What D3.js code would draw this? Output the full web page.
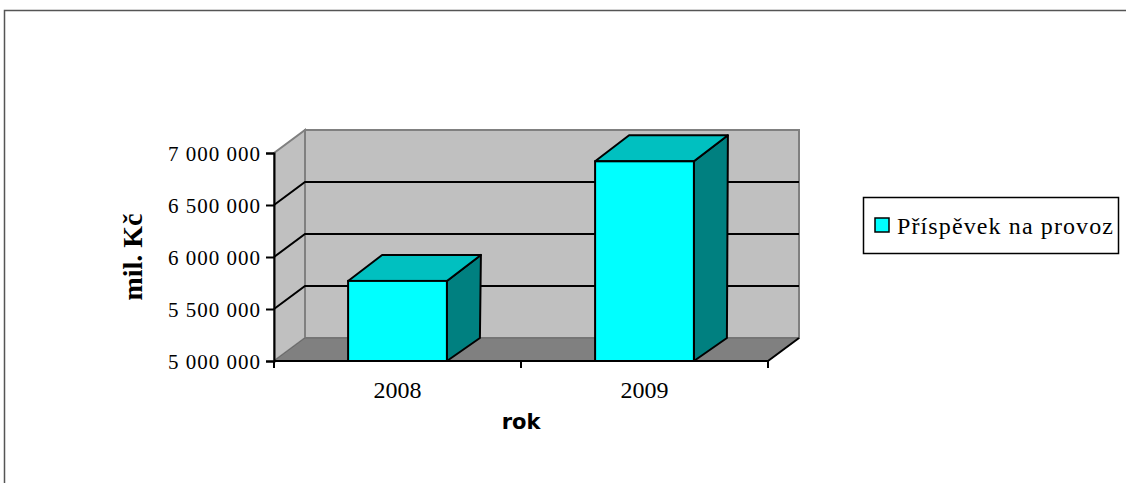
<!DOCTYPE html>
<html>
<head>
<meta charset="utf-8">
<script src="https://cdn.jsdelivr.net/npm/d3@7"></script>
<style>
  html, body { margin: 0; padding: 0; background: #fff; }
  svg { display: block; }
  .serif { font-family: "Liberation Serif", "Times New Roman", Times, serif; }
  .sans { font-family: "DejaVu Sans", Verdana, sans-serif; }
</style>
</head>
<body>
<svg id="chart" width="1126" height="483"></svg>
<script>
const years = ["2008", "2009"];
const values = [5770000, 6920000];
const yTicks = [5000000, 5500000, 6000000, 6500000, 7000000];
const seriesName = "Příspěvek na provoz";

const svg = d3.select("#chart");

// outer chart frame (runs off the right/bottom edge)
svg.append("rect")
    .attr("x", 4.5).attr("y", 10.5).attr("width", 1200).attr("height", 600)
    .attr("fill", "#fff").attr("stroke", "#555").attr("stroke-width", 1.5);

const x0 = 274, x1 = 768, yBot = 361, yTop = 153;
const wall = { dx: 31, dy: -23 };
const barBottom = { dx: 33, dy: -23 };
const barTop = { dx: 34, dy: -26 };

const y = d3.scaleLinear().domain([5000000, 7000000]).range([yBot, yTop]);
const x = d3.scaleBand().domain(years).range([x0, x1]).padding(0);
const barW = x.bandwidth() * 0.4;

const pts = a => a.map(p => p.join(",")).join(" ");

// left side wall
svg.append("polygon")
    .attr("points", pts([[x0, yBot], [x0, yTop], [x0 + wall.dx, yTop + wall.dy], [x0 + wall.dx, yBot + wall.dy]]))
    .attr("fill", "#c0c0c0").attr("stroke", "#808080").attr("stroke-width", 2);

// back wall
svg.append("rect")
    .attr("x", x0 + wall.dx).attr("y", yTop + wall.dy)
    .attr("width", x1 - x0).attr("height", yBot - yTop)
    .attr("fill", "#c0c0c0").attr("stroke", "#808080").attr("stroke-width", 2);

// floor
svg.append("polygon")
    .attr("points", pts([[x0, yBot], [x0 + wall.dx, yBot + wall.dy], [x1 + wall.dx, yBot + wall.dy], [x1, yBot]]))
    .attr("fill", "#808080").attr("stroke", "#6a6a6a").attr("stroke-width", 1);
svg.append("line")
    .attr("x1", x1).attr("y1", yBot).attr("x2", x1 + wall.dx).attr("y2", yBot + wall.dy)
    .attr("stroke", "#000").attr("stroke-width", 2);

// gridlines on side and back walls
const grid = yTicks.filter(v => v > 5000000 && v < 7000000);
svg.append("g").selectAll("path")
    .data(grid)
    .join("path")
    .attr("d", v => `M${x0},${y(v)} L${x0 + wall.dx},${y(v) + wall.dy} L${x1 + wall.dx},${y(v) + wall.dy}`)
    .attr("fill", "none").attr("stroke", "#000").attr("stroke-width", 2);

// bars
const bars = svg.append("g").selectAll("g")
    .data(years.map((d, i) => ({ year: d, value: values[i] })))
    .join("g");

bars.each(function (d) {
    const g = d3.select(this);
    const l = x(d.year) + (x.bandwidth() - barW) / 2;
    const r = l + barW;
    const t = y(d.value);
    g.append("polygon")
        .attr("points", pts([[r, yBot], [r, t], [r + barTop.dx, t + barTop.dy], [r + barBottom.dx, yBot + barBottom.dy]]))
        .attr("fill", "#008080").attr("stroke", "#000").attr("stroke-width", 2).attr("stroke-linejoin", "round");
    g.append("polygon")
        .attr("points", pts([[l, t], [l + barTop.dx, t + barTop.dy], [r + barTop.dx, t + barTop.dy], [r, t]]))
        .attr("fill", "#00c0c0").attr("stroke", "#000").attr("stroke-width", 2).attr("stroke-linejoin", "round");
    g.append("rect")
        .attr("x", l).attr("y", t).attr("width", barW).attr("height", yBot - t)
        .attr("fill", "#00ffff").attr("stroke", "#000").attr("stroke-width", 2);
});

// y axis
const yAxis = svg.append("g")
    .attr("transform", `translate(${x0},0)`)
    .call(d3.axisLeft(y).tickValues(yTicks).tickSize(8).tickPadding(6)
        .tickFormat(v => d3.format(",")(v).replace(/,/g, " ")));
yAxis.attr("font-family", null).attr("font-size", null);
yAxis.select(".domain").attr("stroke", "#000").attr("stroke-width", 2);
yAxis.selectAll(".tick line").attr("stroke", "#000").attr("stroke-width", 2);
yAxis.selectAll(".tick text")
    .attr("class", "serif")
    .attr("font-size", 21).attr("fill", "#000")
    .attr("textLength", 92).attr("lengthAdjust", "spacing")
    .attr("dy", "0.34em");

// x axis
const xAxis = svg.append("g")
    .attr("transform", `translate(0,${yBot})`)
    .call(d3.axisBottom(x).tickSize(0).tickPadding(20));
xAxis.attr("font-family", null).attr("font-size", null);
xAxis.select(".domain").remove();
xAxis.append("line").attr("x1", x0).attr("x2", x1).attr("stroke", "#000").attr("stroke-width", 2);
xAxis.selectAll(".xtick")
    .data([x0, x0 + x.step(), x1])
    .join("line")
    .attr("class", "xtick")
    .attr("x1", d => d).attr("x2", d => d).attr("y1", 0).attr("y2", 7)
    .attr("stroke", "#000").attr("stroke-width", 2);
xAxis.selectAll(".tick text")
    .attr("class", "serif")
    .attr("font-size", 24).attr("fill", "#000");

// axis titles
svg.append("text")
    .attr("class", "sans")
    .attr("x", 521).attr("y", 429)
    .attr("text-anchor", "middle")
    .attr("font-weight", "bold")
    .attr("font-size", 21)
    .text("rok");

svg.append("text")
    .attr("class", "serif")
    .attr("transform", "translate(142,257) rotate(-90)")
    .attr("text-anchor", "middle")
    .attr("font-weight", "bold")
    .attr("font-size", 28)
    .text("mil. Kč");

// legend
const legend = svg.append("g").attr("transform", "translate(863,197)");
legend.append("rect")
    .attr("x", 0.5).attr("y", 0.5).attr("width", 255).attr("height", 56)
    .attr("fill", "#fff").attr("stroke", "#000").attr("stroke-width", 1.5);
legend.append("rect")
    .attr("x", 12).attr("y", 21).attr("width", 14).attr("height", 14)
    .attr("fill", "#00ffff").attr("stroke", "#000").attr("stroke-width", 1.5);
legend.append("text")
    .attr("class", "serif")
    .attr("x", 34).attr("y", 37)
    .attr("font-size", 24)
    .attr("textLength", 216).attr("lengthAdjust", "spacing")
    .text(seriesName);
</script>
</body>
</html>
